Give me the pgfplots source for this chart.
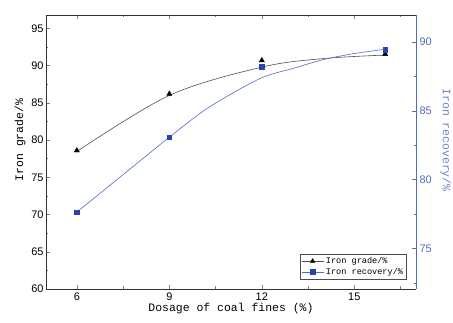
\documentclass[border=0pt]{standalone}
\usepackage{pgfplots}
\pgfplotsset{compat=1.18}
\usepackage{fontspec}
\setmainfont{Liberation Sans}
\newfontfamily\labelfont{Liberation Mono}
\definecolor{recblue}{RGB}{40,70,170}
\definecolor{recline}{RGB}{80,105,200}
\definecolor{raxis}{RGB}{85,105,190}
\definecolor{rlabel}{RGB}{110,130,200}
\definecolor{gradeline}{RGB}{80,80,80}
\begin{document}
\begin{tikzpicture}[x=1bp,y=1bp]
\pgfplotsset{
  every axis/.append style={
    scale only axis, width=370bp, height=274bp,
    xmin=5, xmax=17,
    tick label style={font=\fontsize{11}{13}\selectfont},
    /pgf/number format/assume math mode=true,
    label style={font=\labelfont\fontsize{11.5}{13}\selectfont},
    major tick length=4bp, minor tick length=2.5bp,
    tick style={line width=0.5pt},
  }
}
\begin{axis}[
  axis y line*=left, axis x line*=box,
  axis line style={black!80, line width=0.8pt},
  ymin=60, ymax=96.8,
  ytick={60,65,...,95}, minor ytick={62.5,67.5,...,92.5},
  xtick={6,9,12,15}, minor xtick={7.5,10.5,13.5,16.5},
  xlabel={Dosage of coal fines (\%)},
  ylabel={Iron grade/\%},
  xlabel style={yshift=4bp},
  ylabel style={yshift=-1bp, xshift=12bp},
  yticklabel style={xshift=1bp},
]
% fitted curve
\addplot[gradeline, line width=0.6pt, smooth, tension=0.55, no marks]
coordinates {(6,78.46) (9,86.0) (12,89.8) (14,90.95) (16,91.42)};
% measured points
\addplot[only marks, mark=triangle*, mark size=3bp, mark options={fill=black, draw=black}]
coordinates {(6,78.6) (9,86.2) (12,90.7) (16,91.55)};
\end{axis}
\begin{axis}[
  axis y line*=right, axis x line=none,
  ymin=72.05, ymax=91.96,
  ytick={75,80,85,90}, minor ytick={72.5,77.5,82.5,87.5},
  y axis line style={raxis, line width=0.8pt},
  y tick style={raxis},
  yticklabel style={raxis},
  ylabel={Iron recovery/\%},
  ylabel style={rlabel, rotate=180, xshift=-12bp, yshift=2bp},
  legend style={at={(0.975,0.035)}, anchor=south east, font=\labelfont\fontsize{8.6}{10}\selectfont, draw=black!70, inner sep=1.5bp, row sep=-1bp, cells={anchor=west}},
  legend cell align=left,
  legend image code/.code={
    \draw[#1, mark=none] (0bp,0bp) -- (22bp,0bp);
    \draw[#1, only marks] plot coordinates {(11bp,0bp)};
  },
]
\addlegendimage{gradeline, line width=0.6pt, mark=triangle*, mark size=2.5bp, mark options={fill=black, draw=black}}
\addlegendentry{Iron grade/\%}
\addlegendimage{recline, line width=0.6pt, mark=square*, mark size=2.2bp, mark options={fill=recblue, draw=recblue}}
\addlegendentry{Iron recovery/\%}
\addplot[recline, line width=0.6pt, smooth, tension=0.5, no marks, forget plot]
coordinates {(6,77.64) (7.5,80.36) (9,83.08) (10.3,85.28) (11.94,87.34) (13,88.07) (14,88.72) (15,89.16) (16,89.47)};
\addplot[only marks, mark=square*, mark size=2.2bp, mark options={fill=recblue, draw=recblue}, forget plot]
coordinates {(6,77.64) (9,83.08) (12,88.19) (16,89.45)};
\end{axis}
\pgfresetboundingbox
\path (-46bp,-34bp) rectangle (407bp,289bp);
\end{tikzpicture}
\end{document}
